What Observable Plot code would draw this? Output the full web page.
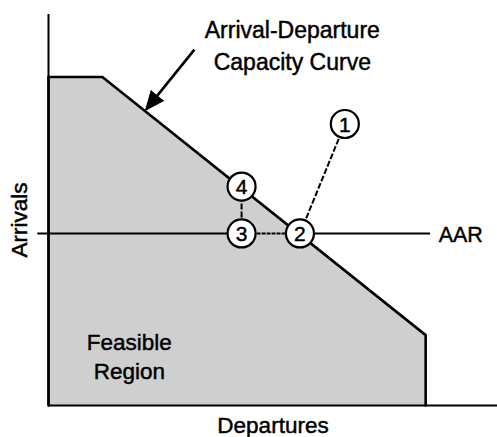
<!DOCTYPE html>
<html><head><meta charset="utf-8">
<script src="https://cdn.jsdelivr.net/npm/d3@7"></script>
<script src="https://cdn.jsdelivr.net/npm/@observablehq/plot@0.6"></script>
<style>body{margin:0;background:#fff} svg{display:block}</style>
</head><body><div id="chart"></div>
<script>
// Arrival-departure capacity curve (abstract units, 0-100 on each axis)
const curveDepartures = [0, 0, 12, 84, 84];
const curveArrivals   = [0, 84, 84, 18, 0];
const aarLevel = 44;
const aarExtent = [-2.5, 85];
const pointIds = ["1", "2", "3", "4"];
const pointDepartures = [66, 56, 43, 43];
const pointArrivals   = [72, 44, 44, 56];
const arrowTail = [32.5, 91];
const arrowTip  = [21.6, 75.5];
const titleText = "Arrival-Departure\nCapacity Curve";
const regionText = "Feasible\nRegion";
const aarText = "AAR";
const xLabel = "Departures";
const yLabel = "Arrivals";

const curve = curveDepartures.map((d, i) => ({x: d, y: curveArrivals[i]}));
const points = pointIds.map((id, i) => ({id, x: pointDepartures[i], y: pointArrivals[i]}));
const P = Object.fromEntries(points.map(p => [p.id, p]));

const font = "'Liberation Sans', Arial, Helvetica, sans-serif";
const base = {
  width: 497, height: 437,
  marginLeft: 48, marginRight: 0, marginTop: 14, marginBottom: 32,
  x: {domain: [0, 100], axis: null},
  y: {domain: [0, 100], axis: null},
  style: {fontFamily: font, background: "white", color: "black", overflow: "visible"}
};

// probe scales for the arrow head direction
const probe = Plot.plot({...base, marks: []});
const sx = probe.scale("x"), sy = probe.scale("y");
const tx = sx.apply(arrowTail[0]), ty = sy.apply(arrowTail[1]);
const hx = sx.apply(arrowTip[0]), hy = sy.apply(arrowTip[1]);
const ang = Math.atan2(hx - tx, -(hy - ty)) * 180 / Math.PI;
const headLen = 19;
const L = Math.hypot(hx - tx, hy - ty);
const shaftEnd = [sx.invert(hx - (hx - tx) / L * headLen * 0.6), sy.invert(hy - (hy - ty) / L * headLen * 0.6)];

const aarSegments = [
  {x1: aarExtent[0], x2: P["3"].x, dash: null},
  {x1: P["3"].x, x2: P["2"].x, dash: "4,1"},
  {x1: P["2"].x, x2: aarExtent[1], dash: null}
];

const txt = {fill: "black", stroke: "black", strokeWidth: 0.45};

const chart = Plot.plot({
  ...base,
  marks: [
    Plot.areaY(curve, {x: "x", y: "y", fill: "#cfcfcf"}),
    Plot.ruleY([0], {stroke: "black", strokeWidth: 2}),
    Plot.ruleX([0], {stroke: "black", strokeWidth: 2}),
    Plot.line(curve, {x: "x", y: "y", stroke: "black", strokeWidth: 2.6}),
    Plot.link(aarSegments.filter(s => !s.dash), {x1: "x1", x2: "x2", y1: () => aarLevel, y2: () => aarLevel, stroke: "black", strokeWidth: 2}),
    Plot.link(aarSegments.filter(s => s.dash), {x1: "x1", x2: "x2", y1: () => aarLevel, y2: () => aarLevel, stroke: "black", strokeWidth: 2, strokeDasharray: "4,1"}),
    Plot.link([{a: P["1"], b: P["2"]}, {a: P["3"], b: P["4"]}], {
      x1: d => d.a.x, y1: d => d.a.y, x2: d => d.b.x, y2: d => d.b.y,
      stroke: "black", strokeWidth: 2, strokeDasharray: "6,2"
    }),
    Plot.dot(points, {x: "x", y: "y", r: 14, fill: "white", stroke: "black", strokeWidth: 2.2}),
    Plot.text(points, {x: "x", y: "y", text: "id", fontSize: 21, dy: 1, ...txt}),
    Plot.link([{x1: arrowTail[0], y1: arrowTail[1], x2: shaftEnd[0], y2: shaftEnd[1]}], {
      x1: "x1", y1: "y1", x2: "x2", y2: "y2", stroke: "black", strokeWidth: 2.6
    }),
    Plot.vector([{x: arrowTip[0], y: arrowTip[1]}], {
      x: "x", y: "y", length: headLen, rotate: ang, shape: "spike", r: 8, anchor: "end", fill: "black", stroke: "black", strokeWidth: 1
    }),
    Plot.text([titleText], {x: () => 54.3, y: () => 85.9, text: d => d, fontSize: 23, lineHeight: 1.36, lineAnchor: "bottom", textAnchor: "middle", ...txt}),
    Plot.text([regionText], {x: () => 18, y: () => 6.9, text: d => d, fontSize: 22.5, lineHeight: 1.25, lineAnchor: "bottom", textAnchor: "middle", ...txt}),
    Plot.text([aarText], {x: () => 86.9, y: () => aarLevel, text: d => d, fontSize: 21.5, lineAnchor: "middle", textAnchor: "start", dy: 2, ...txt}),
    Plot.text([yLabel], {frameAnchor: "left", text: d => d, dx: -29, dy: 10, rotate: -90, fontSize: 22.5, lineAnchor: "middle", textAnchor: "middle", ...txt}),
    Plot.text([xLabel], {frameAnchor: "bottom", text: d => d, dy: 27, fontSize: 22.5, lineAnchor: "bottom", textAnchor: "middle", ...txt})
  ]
});
document.getElementById("chart").appendChild(chart);
</script>
</body></html>
